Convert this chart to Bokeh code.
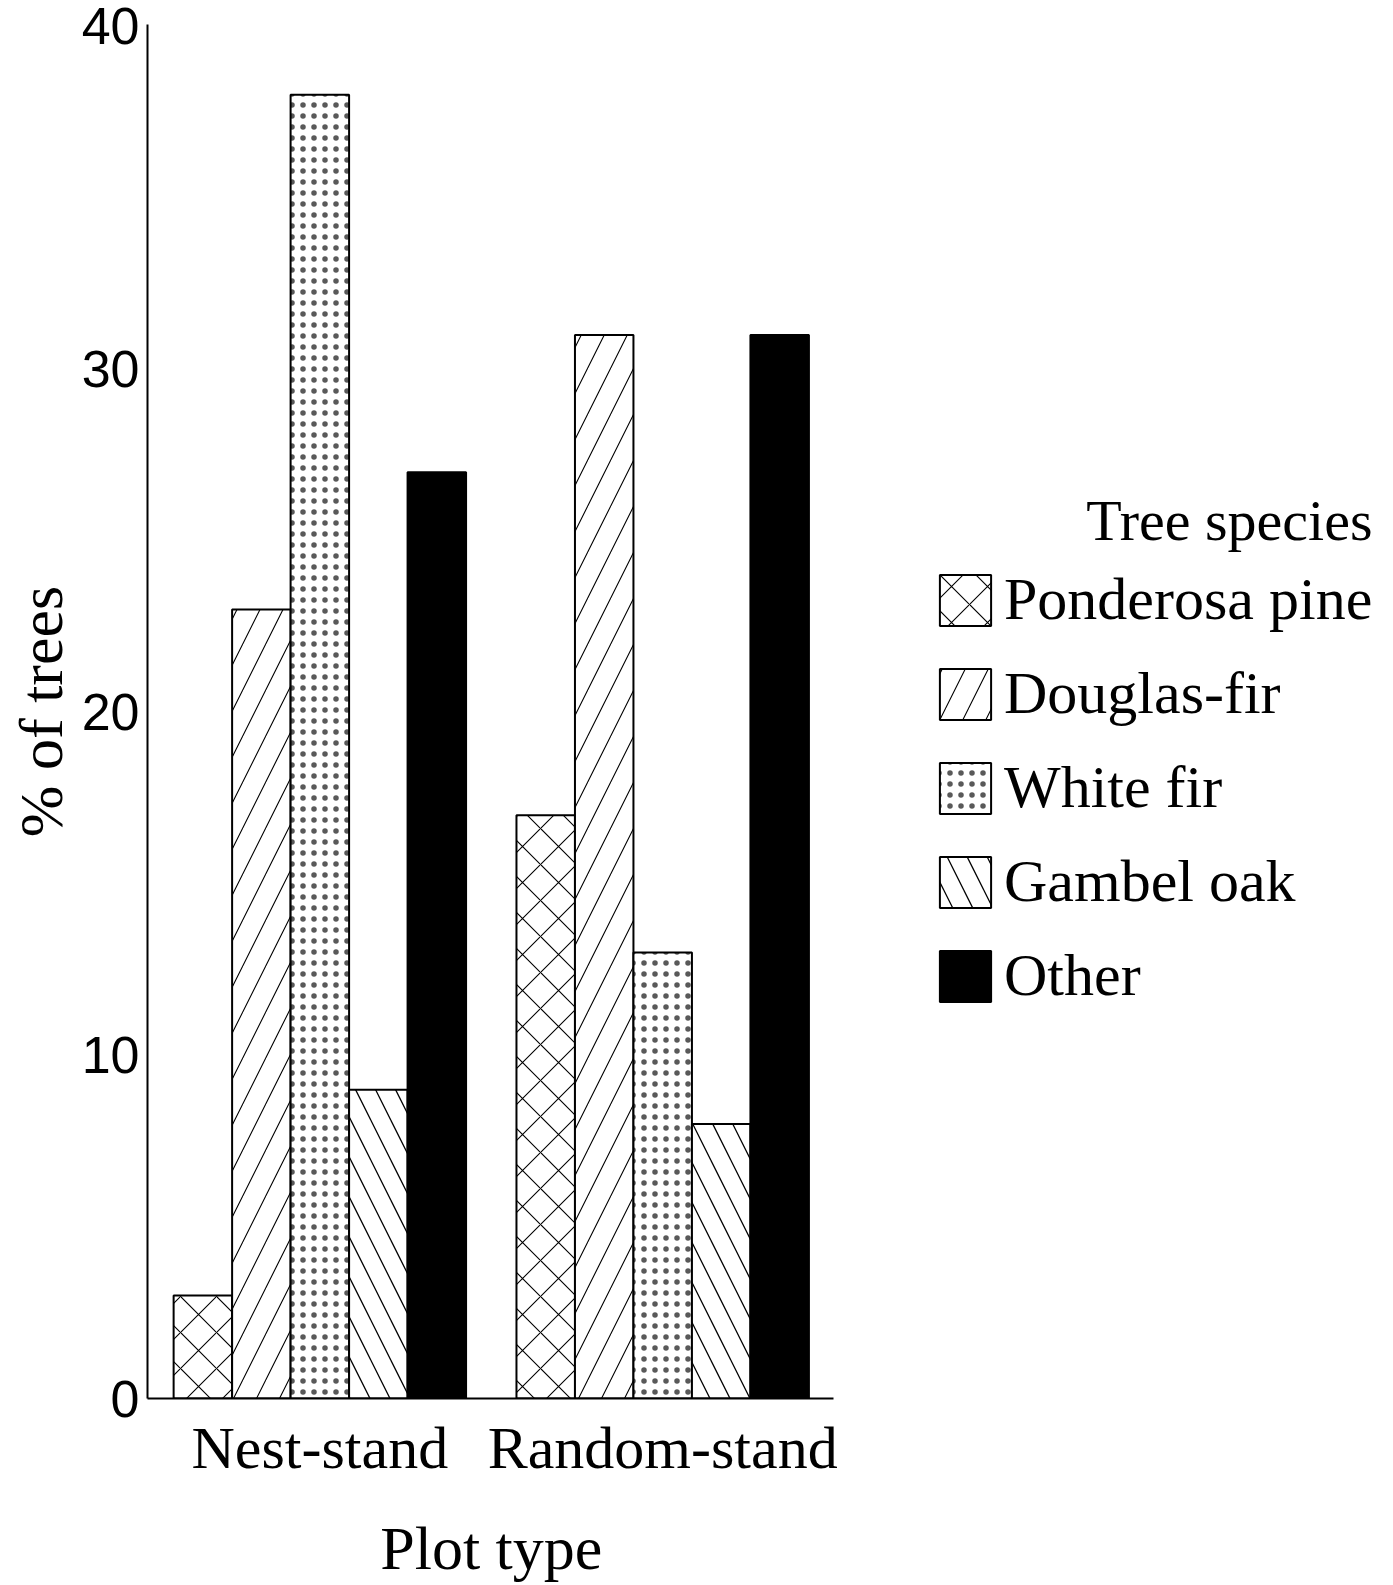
from bokeh.plotting import figure
from bokeh.layouts import column
from bokeh.models import (ColumnDataSource, Range1d, FixedTicker,
                          Legend, LegendItem, Label)
from bokeh.transform import dodge
from bokeh.embed import file_html
from bokeh.resources import INLINE

# ---------------- data ----------------
groups = ["Nest-stand", "Random-stand"]
species = ["Ponderosa pine", "Douglas-fir", "White fir", "Gambel oak", "Other"]
nest_pct = [3, 23, 38, 9, 27]
random_pct = [17, 31, 13, 8, 31]
y_ticks = [0, 10, 20, 30, 40]
x_title = "Plot type"
y_title = "% of trees"
legend_title = "Tree species"

# ---------------- styles ----------------
styles = [
    dict(fill_color="white", hatch_pattern="x", hatch_scale=36, hatch_weight=1.1),
    dict(fill_color="white", hatch_pattern="/", hatch_scale=46, hatch_weight=1.1),
    dict(fill_color="white", hatch_pattern=".", hatch_scale=11, hatch_weight=0.6, hatch_alpha=0.65),
    dict(fill_color="white", hatch_pattern="\\", hatch_scale=40, hatch_weight=1.3),
    dict(fill_color="black"),
]

SERIF = "Liberation Serif"
SANS = "Liberation Sans"
BAR_W = 0.1706                      # bar width in group-spacing units
group_x = [k + 1 for k in range(len(groups))]   # numeric positions of the groups
X0, X1 = 0.4973, 4.1316
AXIS_END = 2.499
W = 1393

x_range = Range1d(X0, X1)
p = figure(x_range=x_range, y_range=Range1d(0, 40.05),
           width=W, height=1490,
           min_border_left=147, min_border_right=0,
           min_border_top=24, min_border_bottom=92,
           output_backend="svg", toolbar_location=None)

renderers = []
for i, name in enumerate(species):
    src = ColumnDataSource(dict(gx=group_x, pct=[nest_pct[i], random_pct[i]]))
    r = p.vbar(x=dodge("gx", (i - (len(species) - 1) / 2) * BAR_W),
               top="pct", width=BAR_W, source=src,
               line_color="black", line_width=2, hatch_color="black",
               **styles[i])
    renderers.append(r)

p.grid.grid_line_color = None
p.outline_line_color = None
p.background_fill_color = "white"
p.border_fill_color = "white"

# y axis
p.yaxis.ticker = FixedTicker(ticks=y_ticks)
p.yaxis.major_label_text_font = SANS
p.yaxis.major_label_text_font_size = "52px"
p.yaxis.major_label_text_color = "black"
p.yaxis.major_tick_out = 0
p.yaxis.major_tick_in = 0
p.yaxis.minor_tick_out = 0
p.yaxis.minor_tick_in = 0
p.yaxis.axis_line_width = 2
p.yaxis.axis_line_color = "black"
p.yaxis.major_label_standoff = 8
p.yaxis.axis_label = y_title
p.yaxis.axis_label_text_font = SERIF
p.yaxis.axis_label_text_font_size = "62px"
p.yaxis.axis_label_text_font_style = "normal"
p.yaxis.axis_label_text_color = "black"
p.yaxis.axis_label_standoff = 4

# x axis
p.xaxis.ticker = FixedTicker(ticks=group_x)
p.xaxis.major_label_overrides = {gx: g for gx, g in zip(group_x, groups)}
p.xaxis.bounds = (X0, AXIS_END)
p.xaxis.major_label_text_font = SERIF
p.xaxis.major_label_text_font_size = "60px"
p.xaxis.major_label_text_color = "black"
p.xaxis.major_tick_out = 0
p.xaxis.major_tick_in = 0
p.xaxis.minor_tick_out = 0
p.xaxis.minor_tick_in = 0
p.xaxis.axis_line_width = 2
p.xaxis.axis_line_color = "black"
p.xaxis.major_label_standoff = 16

# legend
legend = Legend(items=[LegendItem(label=s, renderers=[r]) for s, r in zip(species, renderers)],
                location=(786, 388), orientation="vertical",
                glyph_width=64, glyph_height=64, label_standoff=7, spacing=25,
                padding=0, margin=0, border_line_color=None, background_fill_alpha=0,
                label_text_font=SERIF, label_text_font_size="60px", label_text_color="black")
p.add_layout(legend)

p.add_layout(Label(x=1225, y=878, x_units="screen", y_units="screen", text=legend_title,
                   text_align="right", text_baseline="alphabetic",
                   text_font=SERIF, text_font_size="58px", text_color="black"))

# strip under the chart carrying the x-axis title, sharing the x scale
p2 = figure(x_range=x_range, y_range=Range1d(0, 1), width=W, height=95,
            min_border_left=147, min_border_right=0, min_border_top=0, min_border_bottom=0,
            x_axis_location=None, y_axis_location=None,
            output_backend="svg", toolbar_location=None)
p2.grid.grid_line_color = None
p2.outline_line_color = None
p2.background_fill_color = "white"
p2.border_fill_color = "white"
p2.add_layout(Label(x=sum(group_x) / len(group_x), y=38, x_units="data", y_units="screen",
                    text=x_title, text_align="center", text_baseline="alphabetic",
                    text_font=SERIF, text_font_size="62px", text_color="black"))

layout = column(p, p2, spacing=0)
open("out.html", "w").write(file_html(layout, INLINE))
